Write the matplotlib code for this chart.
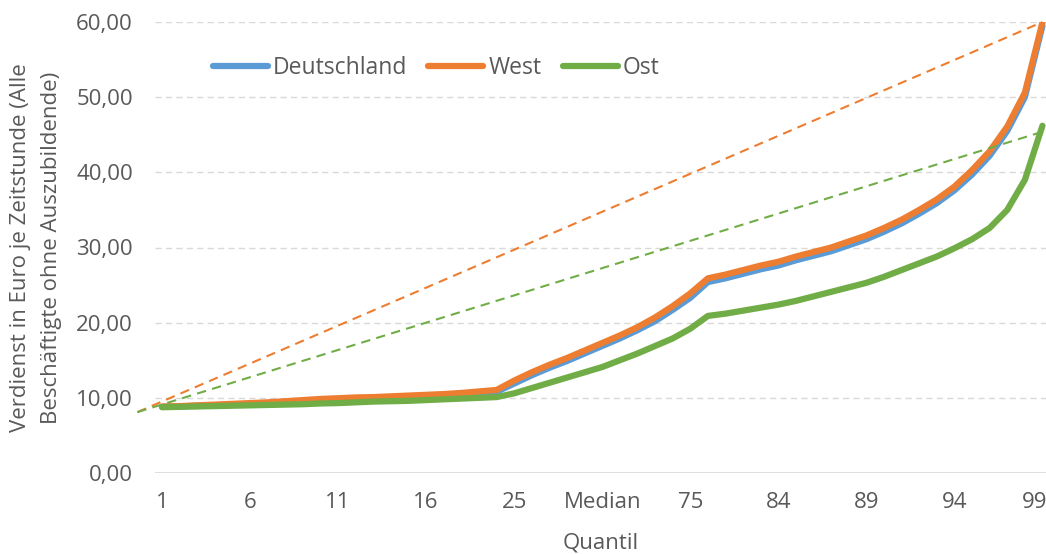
import numpy as np
import matplotlib
matplotlib.use("Agg")
import matplotlib.pyplot as plt
import matplotlib.transforms as mtransforms
from matplotlib.ticker import FuncFormatter

# ---- data ----
quantiles = ([str(i) for i in range(1, 21)]
             + ["25", "30", "35", "40", "45", "Median", "55", "60", "65", "70", "75"]
             + [str(i) for i in range(80, 100)])

deutschland = [8.8, 8.85, 8.95, 9.0, 9.1, 9.2, 9.3, 9.4, 9.55, 9.7,
               9.8, 9.9, 9.95, 10.05, 10.15, 10.25, 10.35, 10.45, 10.6, 10.8,
               11.9, 13.0, 14.0, 14.9, 15.9, 16.9, 17.9, 19.0, 20.2, 21.7, 23.3,
               25.4, 25.9, 26.5, 27.1, 27.6, 28.3, 28.9, 29.5, 30.3, 31.1,
               32.1, 33.2, 34.5, 35.9, 37.6, 39.7, 42.2, 45.5, 50.0, 59.5]
west = [8.85, 8.9, 9.0, 9.1, 9.2, 9.3, 9.4, 9.55, 9.7, 9.85,
        9.95, 10.05, 10.1, 10.2, 10.3, 10.4, 10.5, 10.65, 10.85, 11.05,
        12.3, 13.4, 14.4, 15.3, 16.3, 17.3, 18.3, 19.4, 20.7, 22.2, 23.9,
        25.9, 26.4, 27.0, 27.6, 28.1, 28.8, 29.4, 30.0, 30.8, 31.6,
        32.6, 33.7, 35.0, 36.4, 38.1, 40.3, 42.8, 46.1, 50.6, 60.0]
ost = [8.75, 8.8, 8.85, 8.9, 8.95, 9.0, 9.05, 9.1, 9.15, 9.25,
       9.3, 9.4, 9.5, 9.55, 9.6, 9.7, 9.8, 9.9, 10.0, 10.1,
       10.6, 11.3, 12.0, 12.7, 13.4, 14.1, 15.0, 15.9, 16.9, 17.9, 19.2,
       20.9, 21.2, 21.6, 22.0, 22.4, 22.9, 23.5, 24.1, 24.7, 25.3,
       26.1, 27.0, 27.9, 28.8, 29.9, 31.1, 32.6, 35.0, 39.0, 46.2]

# reference (dashed) lines: start/end in category-index / value units
ref_x = [-1.4, 50.0]
west_ref = [8.1, 60.0]
ost_ref = [8.1, 45.4]

yticks = [0, 10, 20, 30, 40, 50, 60]

# ---- style ----
plt.rcParams["font.family"] = ["Open Sans", "DejaVu Sans"]
TXT = "#595959"
C_DE, C_W, C_O = "#5B9BD5", "#ED7D31", "#70AD47"

fig = plt.figure(figsize=(10.46, 5.54), dpi=100)
ax = fig.add_axes([155 / 1046, 81 / 554, 891 / 1046, 451 / 554])

x = np.arange(len(quantiles))

ax.set_ylim(0, 60)
ax.set_xlim(-0.4, 50.2)

for yv in yticks[1:]:
    ax.axhline(yv, color="#D9D9D9", lw=1.0, dashes=(4.5, 3), zorder=1)
ax.axhline(0, color="#D9D9D9", lw=1.2, zorder=1)

ax.plot(x, deutschland, color=C_DE, lw=4.5, solid_joinstyle="round",
        solid_capstyle="round", label="Deutschland", zorder=3)
ax.plot(x, west, color=C_W, lw=4.5, solid_joinstyle="round",
        solid_capstyle="round", label="West", zorder=4)
ax.plot(x, ost, color=C_O, lw=4.5, solid_joinstyle="round",
        solid_capstyle="round", label="Ost", zorder=5)

ax.plot(ref_x, west_ref, color=C_W, lw=1.5, dashes=(4.5, 3), clip_on=False, zorder=6)
ax.plot(ref_x, ost_ref, color=C_O, lw=1.5, dashes=(4.5, 3), clip_on=False, zorder=6)

for s in ax.spines.values():
    s.set_visible(False)

ax.set_yticks(yticks)
ax.yaxis.set_major_formatter(FuncFormatter(lambda v, p: f"{v:.2f}".replace(".", ",")))
ax.set_xticks(x[::5])
ax.set_xticklabels(quantiles[::5])
ax.tick_params(axis="both", length=0, labelsize=16, labelcolor=TXT)
ax.tick_params(axis="y", pad=16)
ax.tick_params(axis="x", pad=14)

# keep the last x label inside the canvas
last = ax.get_xticklabels()[-1]
last.set_transform(last.get_transform() + mtransforms.ScaledTranslation(-8 / 100, 0, fig.dpi_scale_trans))

ax.set_xlabel("Quantil", fontsize=16, color=TXT, labelpad=14)
ax.set_ylabel("Verdienst in Euro je Zeitstunde (Alle\nBeschäftigte ohne Auszubildende)",
              fontsize=16, color=TXT, labelpad=10, linespacing=1.65)

leg = ax.legend(loc="center left", bbox_to_anchor=(0.065, 0.898), ncol=3,
                frameon=False, fontsize=16.5, handlelength=2.4, handletextpad=0.22,
                columnspacing=0.92, borderaxespad=0, borderpad=0)
for t in leg.get_texts():
    t.set_color(TXT)

fig.savefig("out.png", dpi=100)
